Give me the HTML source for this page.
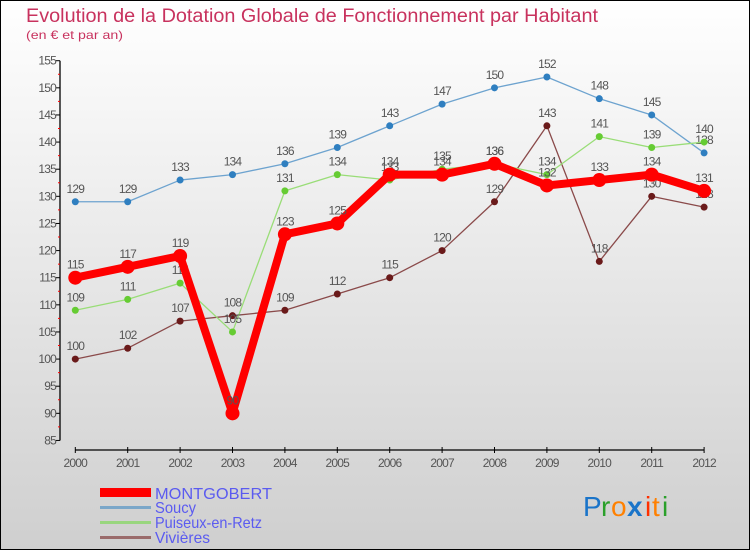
<!DOCTYPE html>
<html><head><meta charset="utf-8"><style>
html,body{margin:0;padding:0}
body{width:750px;height:550px;overflow:hidden}
svg text{font-family:"Liberation Sans","DejaVu Sans",sans-serif}
</style></head><body>
<svg id="chart" width="750" height="550" xmlns="http://www.w3.org/2000/svg">
<defs><linearGradient id="bg" x1="0" y1="0" x2="0" y2="1"><stop offset="0" stop-color="#ffffff"/><stop offset="1" stop-color="#cfcfcf"/></linearGradient></defs>
<rect x="0.5" y="0.5" width="749" height="549" fill="url(#bg)" stroke="#000" stroke-width="1"/>
<text x="26" y="22" font-size="19" fill="#c8325e" textLength="572" lengthAdjust="spacingAndGlyphs">Evolution de la Dotation Globale de Fonctionnement par Habitant</text>
<text x="26" y="39" font-size="12" fill="#c8325e" textLength="97" lengthAdjust="spacingAndGlyphs">(en € et par an)</text>
<g id="axes"></g>
<g id="series"></g>
<g id="legend">
<rect x="100" y="488" width="51" height="9" fill="#f00"/>
<text x="155" y="499" font-size="16" fill="#5b5bf0" textLength="117" lengthAdjust="spacingAndGlyphs">MONTGOBERT</text>
<rect x="100" y="506" width="51" height="3" fill="#7ba7c9"/>
<text x="155" y="513" font-size="16" fill="#5b5bf0" textLength="41" lengthAdjust="spacingAndGlyphs">Soucy</text>
<rect x="100" y="521" width="51" height="3" fill="#99d67f"/>
<text x="155" y="528" font-size="16" fill="#5b5bf0" textLength="107" lengthAdjust="spacingAndGlyphs">Puiseux-en-Retz</text>
<rect x="100" y="536" width="51" height="3" fill="#9a6b6b"/>
<text x="155" y="543" font-size="16" fill="#5b5bf0" textLength="55" lengthAdjust="spacingAndGlyphs">Vivières</text>
</g>
<g font-size="28" font-family="Liberation Sans,sans-serif">
<text x="583" y="516" fill="#1a74c9">P</text><text x="601" y="516" fill="#2aa02a">r</text><text x="611" y="516" fill="#ff8000">o</text><text x="627" y="516" fill="#1a74c9" font-weight="bold">x</text><text x="645" y="516" fill="#ff3000">i</text><text x="652" y="516" fill="#ff8000">t</text><text x="662" y="516" fill="#2aa02a">i</text>
</g>
</svg>
<script>
const years=["2000","2001","2002","2003","2004","2005","2006","2007","2008","2009","2010","2011","2012"];
const yTicks=[85,90,95,100,105,110,115,120,125,130,135,140,145,150,155];
const montgobert=[115,117,119,90,123,125,134,134,136,132,133,134,131];
const soucy=[129,129,133,134,136,139,143,147,150,152,148,145,138];
const puiseux=[109,111,114,105,131,134,133,135,136,134,141,139,140];
const vivieres=[100,102,107,108,109,112,115,120,129,143,118,130,128];
const NS="http://www.w3.org/2000/svg";
const X0=75.3,DX=52.4,Y155=60.7,PU=5.425;
function xs(i){return X0+i*DX;}
function ys(v){return Y155+(155-v)*PU;}
function mk(tag,attrs,parent){const e=document.createElementNS(NS,tag);for(const k in attrs)e.setAttribute(k,attrs[k]);parent.appendChild(e);return e;}
const axes=document.getElementById('axes');
const ya=mk('line',{x1:60,y1:ys(155),x2:60,y2:ys(85),stroke:'#000','stroke-width':1.3},axes);


yTicks.forEach(v=>{
  mk('line',{x1:56,y1:ys(v),x2:60,y2:ys(v),stroke:'#000'},axes);
  if(v>85) mk('line',{x1:58,y1:ys(v-2.5),x2:60,y2:ys(v-2.5),stroke:'#f00'},axes);
  const t=mk('text',{x:56,y:ys(v)+4,'font-size':12,fill:'#555','text-anchor':'end','letter-spacing':'-0.8'},axes);
  
  
  t.textContent=v;
});
const xa=mk('line',{x1:xs(0),y1:450,x2:xs(12),y2:450,stroke:'#000','stroke-width':1.3},axes);


years.forEach((y,i)=>{
  mk('line',{x1:xs(i),y1:447,x2:xs(i),y2:453,stroke:'#000'},axes);
  const t=mk('text',{x:xs(i),y:467,'font-size':12,fill:'#555','text-anchor':'middle','letter-spacing':'-0.8'},axes);
  
  
  t.textContent=y;
});
const sg=document.getElementById('series');
function draw(name,data,color,dot,width,r){
  const g=mk('g',{},sg);
  
  
  mk('polyline',{points:data.map((v,i)=>xs(i)+','+ys(v)).join(' '),fill:'none',stroke:color,'stroke-width':width,'stroke-linejoin':'round'},g);
  data.forEach((v,i)=>{
    const c=mk('circle',{cx:xs(i),cy:ys(v),r:r,fill:dot},g);
    
    
  });
  data.forEach((v,i)=>{
    const t=mk('text',{x:xs(i),y:ys(v)-9,'font-size':12,fill:'#555','text-anchor':'middle','letter-spacing':'-0.8'},g);
    
    
    t.textContent=v;
  });
}
draw('soucy',soucy,'#6da3cf','#2f7fc0',1.3,3.5);
draw('vivieres',vivieres,'#8a4a4a','#6a1a1a',1.3,3.5);
draw('puiseux',puiseux,'#99dd77','#66cc33',1.3,3.5);
draw('montgobert',montgobert,'#f00','#f00',8,7);
</script>
</body></html>
